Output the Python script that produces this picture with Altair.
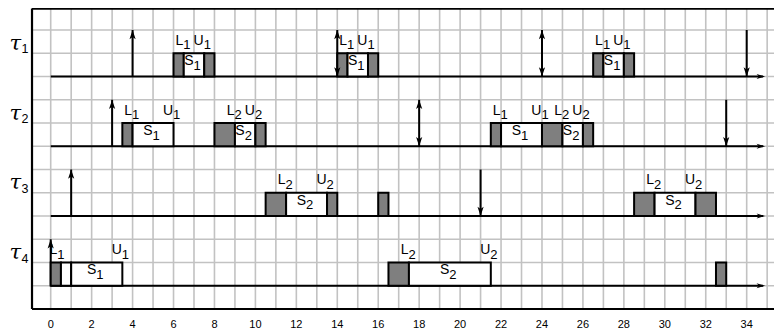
import altair as alt
import pandas as pd

# ---------------- data ----------------
x_ticks = list(range(0, 36, 2))
grid_times = list(range(0, 36))
grid_rows = list(range(1, 13))

task_ids = ["1", "2", "3", "4"]
task_base = [10, 7, 4, 1]   # baseline row of each task (rows counted from bottom frame)

# execution boxes: g = lock/unlock section (grey), w = critical section (white)
box_task = [1, 1, 1, 1, 1, 1, 1, 1, 1,
            2, 2, 2, 2, 2, 2, 2, 2, 2, 2,
            3, 3, 3, 3, 3, 3, 3,
            4, 4, 4, 4, 4, 4]
box_start = [6, 6.5, 7.5, 14, 14.5, 15.5, 26.5, 27, 28,
             3.5, 4, 8, 9, 10, 21.5, 22, 24, 25, 26,
             10.5, 11.5, 13.5, 16, 28.5, 29.5, 31.5,
             0, 0.5, 1, 16.5, 17.5, 32.5]
box_end = [6.5, 7.5, 8, 14.5, 15.5, 16, 27, 28, 28.5,
           4, 6, 9, 10, 10.5, 22, 24, 25, 26, 26.5,
           11.5, 13.5, 14, 16.5, 29.5, 31.5, 32.5,
           0.5, 1, 3.5, 17.5, 21.5, 33]
box_kind = ["g", "w", "g", "g", "w", "g", "g", "w", "g",
            "g", "w", "g", "w", "g", "g", "w", "g", "w", "g",
            "g", "w", "g", "g", "g", "w", "g",
            "g", "w", "w", "g", "w", "g"]

# release / deadline arrows
arrow_task = [1, 1, 1, 1, 2, 2, 2, 3, 3, 4]
arrow_time = [4, 14, 24, 34, 3, 18, 33, 1, 21, 0]
arrow_kind = ["up", "both", "both", "down", "up", "both", "down", "up", "down", "up"]

# lock / unlock labels
lab_task = [1, 1, 1, 1, 1, 1, 2, 2, 2, 2, 2, 2, 2, 2, 3, 3, 3, 3, 4, 4, 4, 4]
lab_time = [6.5, 7.5, 14.5, 15.5, 27, 28,
            4, 6, 9, 10, 22, 24, 25, 26,
            11.5, 13.5, 29.5, 31.5,
            0.35, 3.5, 17.5, 21.5]
lab_letter = ["L", "U", "L", "U", "L", "U",
              "L", "U", "L", "U", "L", "U", "L", "U",
              "L", "U", "L", "U",
              "L", "U", "L", "U"]
lab_digit = ["1", "1", "1", "1", "1", "1",
             "1", "1", "2", "2", "1", "1", "2", "2",
             "2", "2", "2", "2",
             "1", "1", "2", "2"]

# semaphore labels inside critical sections
s_task = [1, 1, 1, 2, 2, 2, 2, 3, 3, 4, 4]
s_time = [7, 15, 27.5, 5, 9.5, 23, 25.5, 12.5, 30.5, 2.25, 19.5]
s_digit = ["1", "1", "1", "1", "2", "1", "2", "2", "2", "1", "2"]

# ---------------- layout helpers ----------------
X_MIN, X_MAX = -2.086, 35.334
Y_MIN, Y_MAX = -0.903, 12.946
FRAME_L = -0.913
FRAME_T = 12.92
FONT = "Liberation Sans"

xs = alt.Scale(domain=[X_MIN, X_MAX], nice=False, zero=False)
ys = alt.Scale(domain=[Y_MIN, Y_MAX], nice=False, zero=False)
base_of = dict(zip([1, 2, 3, 4], task_base))


def X(f="x"):
    return alt.X(f"{f}:Q", scale=xs, axis=None)


def Y(f="y"):
    return alt.Y(f"{f}:Q", scale=ys, axis=None)


grid_col = "#c2c2c2"

gv = alt.Chart(pd.DataFrame({"x": grid_times, "y": 0, "y2": 13})).mark_rule(
    color=grid_col, strokeWidth=1.6).encode(x=X(), y=Y(), y2="y2:Q")
gh = alt.Chart(pd.DataFrame({"x": FRAME_L, "x2": 36, "y": grid_rows})).mark_rule(
    color=grid_col, strokeWidth=1.6).encode(x=X(), x2="x2:Q", y=Y())

frame_h = alt.Chart(pd.DataFrame({"x": FRAME_L, "x2": 36, "y": [0, FRAME_T]})).mark_rule(
    color="black", strokeWidth=2.2).encode(x=X(), x2="x2:Q", y=Y())
frame_v = alt.Chart(pd.DataFrame({"x": [FRAME_L], "y": [0], "y2": [FRAME_T]})).mark_rule(
    color="black", strokeWidth=2.2).encode(x=X(), y=Y(), y2="y2:Q")

# time lines of each task
tl = pd.DataFrame({"x": 0, "x2": 34.8, "y": task_base})
timeline = alt.Chart(tl).mark_rule(color="black", strokeWidth=1.8).encode(
    x=X(), x2="x2:Q", y=Y())
RIGHT_HEAD = "M1,0L-1,-0.6L-0.45,0L-1,0.6Z"
UP_HEAD = "M0,-1L-0.65,0.95L0,0.45L0.65,0.95Z"
DOWN_HEAD = "M0,1L-0.65,-0.95L0,-0.45L0.65,-0.95Z"
tl_heads = alt.Chart(pd.DataFrame({"x": 34.69, "y": task_base})).mark_point(
    shape=RIGHT_HEAD, size=72, filled=True, color="black", opacity=1, strokeWidth=0
).encode(x=X(), y=Y())

# boxes
bx = pd.DataFrame({
    "x": box_start, "x2": box_end,
    "y": [base_of[t] for t in box_task],
    "kind": box_kind,
})
bx["y2"] = bx["y"] + 1
boxes = alt.Chart(bx).mark_rect(stroke="black", strokeWidth=2).encode(
    x=X(), x2="x2:Q", y=Y(), y2="y2:Q",
    fill=alt.Fill("kind:N", scale=alt.Scale(domain=["g", "w"], range=["#7f7f7f", "#ffffff"]),
                  legend=None),
)

# arrows
ar = pd.DataFrame({"x": arrow_time, "y": [base_of[t] for t in arrow_task], "kind": arrow_kind})
ar["y2"] = ar["y"] + 2
arrow_lines = alt.Chart(ar).mark_rule(color="black", strokeWidth=2).encode(
    x=X(), y=Y(), y2="y2:Q")
up = ar[ar["kind"].isin(["up", "both"])].copy()
up["y"] = up["y"] + 2 - 4.75 / 23.25
dn = ar[ar["kind"].isin(["down", "both"])].copy()
dn["y"] = dn["y"] + 4.75 / 23.25
up_heads = alt.Chart(up).mark_point(shape=UP_HEAD, size=90, filled=True, color="black",
                                     opacity=1, strokeWidth=0).encode(x=X(), y=Y())
dn_heads = alt.Chart(dn).mark_point(shape=DOWN_HEAD, size=90, filled=True, color="black",
                                     opacity=1, strokeWidth=0).encode(x=X(), y=Y())

# L/U labels
lb = pd.DataFrame({"x": lab_time, "b": [base_of[t] for t in lab_task],
                   "letter": lab_letter, "digit": lab_digit})
lb["yl"] = lb["b"] + 1.355
lb["yd"] = lb["b"] + 1.17
lab_l = alt.Chart(lb).mark_text(align="right", baseline="alphabetic", fontSize=14, font=FONT,
                                dx=-0.5).encode(x=X(), y=Y("yl"), text="letter:N")
lab_d = alt.Chart(lb).mark_text(align="left", baseline="alphabetic", fontSize=13, font=FONT,
                                dx=-0.5).encode(x=X(), y=Y("yd"), text="digit:N")

# S labels
sb = pd.DataFrame({"x": s_time, "b": [base_of[t] for t in s_task], "digit": s_digit})
sb["yl"] = sb["b"] + 0.49
sb["yd"] = sb["b"] + 0.28
sb["letter"] = "S"
s_l = alt.Chart(sb).mark_text(align="right", baseline="alphabetic", fontSize=14, font=FONT,
                              dx=-0.5).encode(x=X(), y=Y("yl"), text="letter:N")
s_d = alt.Chart(sb).mark_text(align="left", baseline="alphabetic", fontSize=13, font=FONT,
                              dx=-0.5).encode(x=X(), y=Y("yd"), text="digit:N")

# task names
tk = pd.DataFrame({"b": task_base, "digit": task_ids})
tk["x"] = -1.45
tk["xd"] = -1.427
tk["yl"] = tk["b"] + 1.14
tk["yd"] = tk["b"] + 1.0
tk["tau"] = "τ"
tau_l = alt.Chart(tk).mark_text(align="right", baseline="alphabetic", fontSize=21,
                                font="DejaVu Serif", fontStyle="italic").encode(
    x=X(), y=Y("yl"), text="tau:N")
tau_d = alt.Chart(tk).mark_text(align="left", baseline="alphabetic", fontSize=12.5,
                                font=FONT).encode(x=X("xd"), y=Y("yd"), text="digit:N")

# tick labels
tks = pd.DataFrame({"x": x_ticks, "y": -0.83, "lab": [str(v) for v in x_ticks]})
ticks = alt.Chart(tks).mark_text(align="center", baseline="alphabetic", fontSize=11,
                                 font=FONT).encode(x=X(), y=Y(), text="lab:N")

chart = alt.layer(
    gv, gh, frame_h, frame_v, timeline, tl_heads, arrow_lines, boxes,
    up_heads, dn_heads, lab_l, lab_d, s_l, s_d, tau_l, tau_d, ticks
).properties(
    width=766, height=322, padding=0,
    autosize=alt.AutoSizeParams(type="none"),
).configure_view(stroke=None)

chart.save("out.html", embed_options={"renderer": "svg", "actions": False})
